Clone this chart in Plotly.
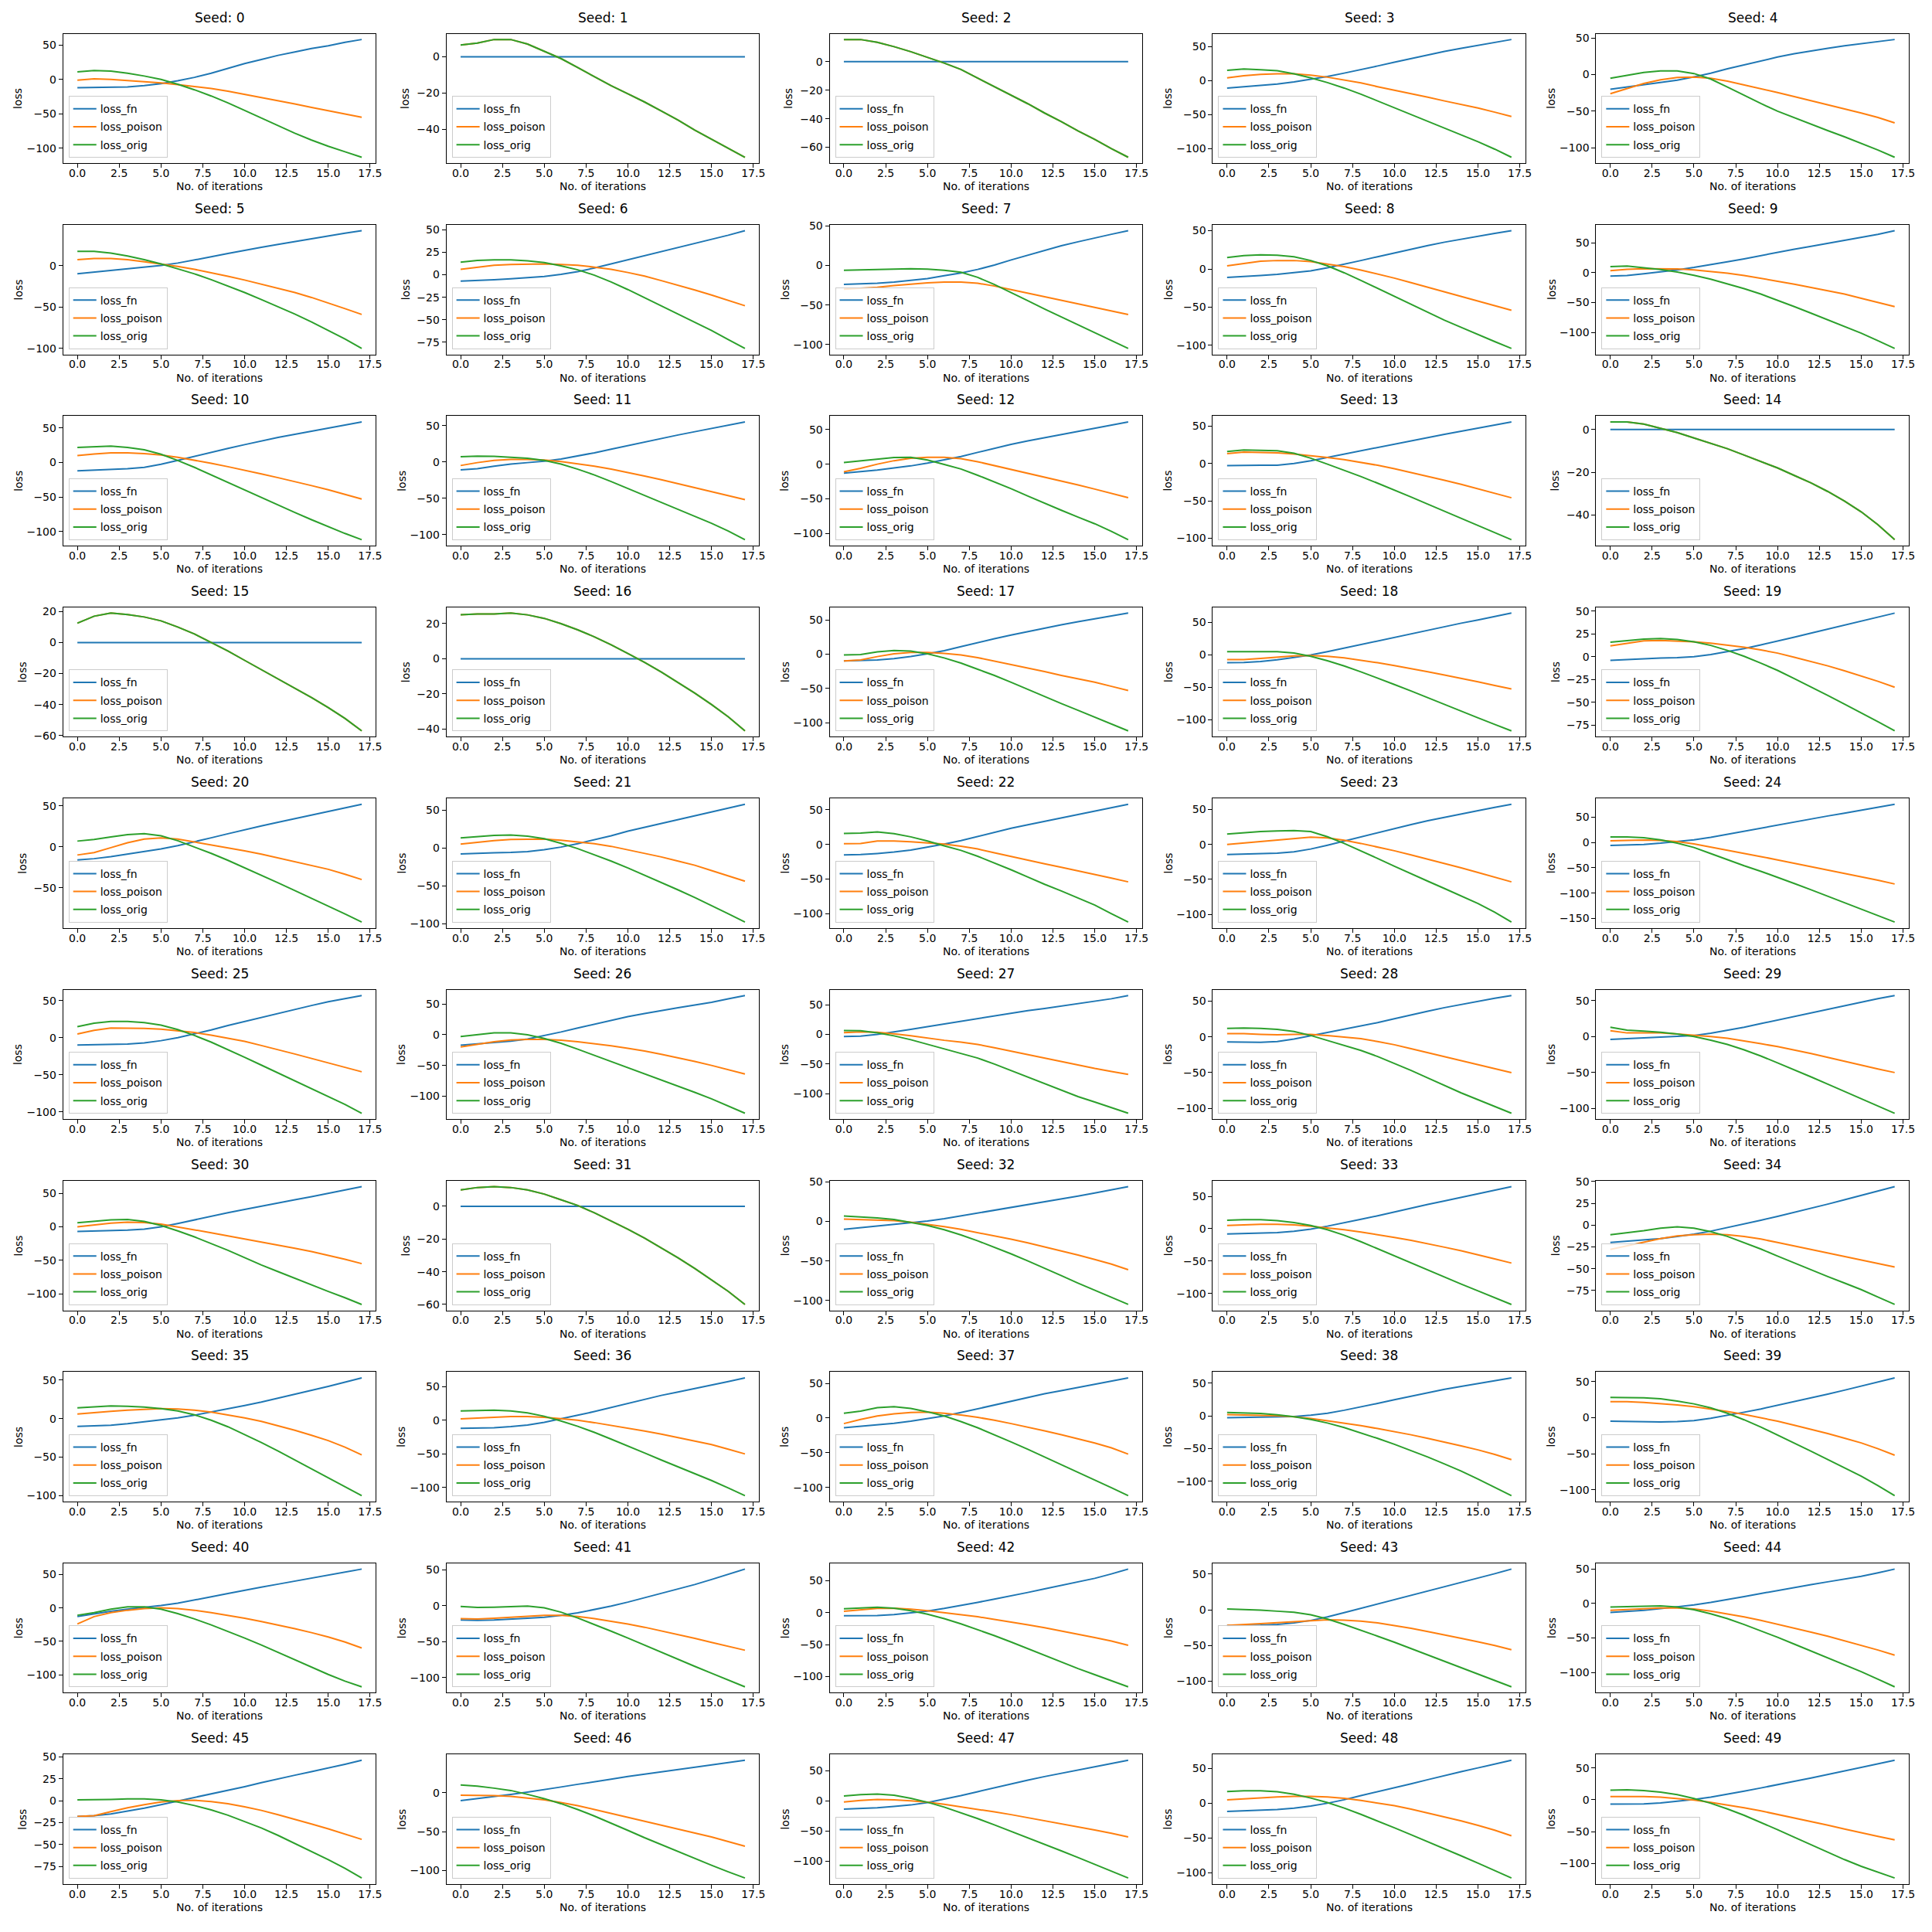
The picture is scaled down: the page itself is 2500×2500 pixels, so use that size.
import math
import plotly.graph_objects as go

SEEDS = list(range(50))
ITERATIONS = list(range(18))
SERIES_NAMES = ["loss_fn", "loss_poison", "loss_orig"]
SERIES_COLORS = ["#1f77b4", "#ff7f0e", "#2ca02c"]
X_TICK_VALUES = [0, 2.5, 5, 7.5, 10, 12.5, 15, 17.5]
X_TICK_LABELS = ["0.0", "2.5", "5.0", "7.5", "10.0", "12.5", "15.0", "17.5"]
X_LABEL = "No. of iterations"
Y_LABEL = "loss"

LOSS_FN = [
    [-12, -11.5, -11.5, -11, -9, -6, -2, 3, 9, 16, 23, 29, 35, 40, 45, 49, 54, 58],
    [0, 0, 0, 0, 0, 0, 0, 0, 0, 0, 0, 0, 0, 0, 0, 0, 0, 0],
    [0, 0, 0, 0, 0, 0, 0, 0, 0, 0, 0, 0, 0, 0, 0, 0, 0, 0],
    [-11, -9, -7, -5, -2, 2, 6, 11, 16, 21.5, 27, 32.5, 38, 43, 47.5, 52, 56, 60.5],
    [-20, -17, -14, -11, -7.5, -3, 2, 8, 13.5, 19, 24, 28.5, 32.5, 36, 39.5, 42.5, 45, 48],
    [-10, -8, -6.5, -4.5, -2.5, 0, 3, 6.5, 10.5, 14.5, 18.5, 22, 25.5, 29, 32.5, 35.5, 39, 42],
    [-7, -6.5, -5.5, -4.5, -3.5, -2, 0.5, 3.5, 7.5, 12, 16.5, 21, 25.5, 30, 34.5, 39.5, 44, 49],
    [-24, -23.5, -22.5, -21, -19, -16.5, -13, -9.5, -5, 0.5, 7, 13, 19.5, 25, 30, 35, 39.5, 44],
    [-11, -10, -8.5, -7, -5, -2.5, 1.5, 6, 11, 16, 21, 26, 30.5, 35, 39, 43, 46.5, 50],
    [-6, -5, -2, 1, 4.5, 8.5, 13, 18, 23, 28.5, 34, 39, 44, 49, 54, 59, 64, 70],
    [-12, -11, -10, -9, -7, -2.5, 3, 9, 15, 20.5, 26, 31.5, 36.5, 41, 45.5, 50, 54.5, 59],
    [-11, -9.5, -6, -3, -1, 1, 4, 8, 12.5, 17.5, 22.5, 27.5, 32.5, 37, 41.5, 46, 50.5, 55],
    [-13, -11, -8.5, -5.5, -2.5, 1.5, 6, 11, 17, 23, 28.5, 33.5, 38, 42.5, 47, 52, 56.5, 61],
    [-3, -2.5, -2.5, -2.5, 0, 3.5, 8, 12.5, 17, 21.5, 26, 30.5, 35, 39, 43, 47, 51, 55.5],
    [0, 0, 0, 0, 0, 0, 0, 0, 0, 0, 0, 0, 0, 0, 0, 0, 0, 0],
    [0, 0, 0, 0, 0, 0, 0, 0, 0, 0, 0, 0, 0, 0, 0, 0, 0, 0],
    [0, 0, 0, 0, 0, 0, 0, 0, 0, 0, 0, 0, 0, 0, 0, 0, 0, 0],
    [-10, -9.5, -8.5, -6.5, -3.5, 0.5, 5, 11, 17, 22.5, 28, 33, 38.5, 43, 47.5, 51.5, 56, 60],
    [-12, -11.5, -10, -7.5, -4, 0, 5, 10.5, 16, 21.5, 27.5, 33, 38.5, 44, 49, 54, 59, 64.5],
    [-4, -3, -2, -1.5, -1, 0, 2.5, 5.5, 9, 13, 17, 21.5, 26, 30.5, 35, 39.5, 44, 48],
    [-16, -14.5, -12, -9, -6, -2.5, 1.5, 6, 11, 16, 21, 25.5, 30, 34.5, 39, 43.5, 48, 52],
    [-8, -7, -6.5, -6, -5, -2.5, 1, 5.5, 10.5, 16, 22, 27, 32, 37, 42, 47, 52, 57.5],
    [-15, -14.5, -13, -11, -8, -4, 0.5, 5.5, 11.5, 17.5, 23.5, 28.5, 33.5, 38.5, 43, 48, 53, 58],
    [-14.5, -14, -13.5, -12.5, -10.5, -6.5, -1, 5, 11, 17, 23, 28.5, 34, 39, 44, 48.5, 53, 57.5],
    [-6, -5.5, -4, -1.5, 1.5, 5, 10, 16, 22, 28.5, 35, 41, 46.5, 52, 57.5, 63, 69, 75],
    [-10, -9.5, -9, -8.5, -7, -4, 0, 5, 10.5, 16.5, 22, 27.5, 33, 38.5, 43.5, 48.5, 53, 57],
    [-17, -15, -13, -10.5, -7, -1.5, 4.5, 11, 17.5, 23.5, 29.5, 34.5, 39.5, 44, 48.5, 53, 58.5, 64],
    [-3.5, -3, 0, 4, 8.5, 13, 17.5, 22, 27, 31.5, 36, 40, 43.5, 47.5, 51.5, 55.5, 60, 65.5],
    [-7, -7, -7.5, -6.5, -3, 1.5, 6, 10.5, 15, 20, 25.5, 31, 36, 41, 45.5, 50, 54, 58],
    [-4, -3, -2, -1, 0, 1.5, 4.5, 8.5, 13, 18, 23, 28, 33, 38, 43, 48, 52.5, 57],
    [-7, -6.5, -6, -5, -3.5, 0, 5, 10.5, 16, 21, 26, 31, 36, 40.5, 45, 50, 55, 60],
    [0, 0, 0, 0, 0, 0, 0, 0, 0, 0, 0, 0, 0, 0, 0, 0, 0, 0],
    [-10, -8, -6, -4, -2, 0.5, 3.5, 7, 10.5, 14, 17.5, 21, 25, 28.5, 32, 36, 40, 44],
    [-8, -7.5, -7, -6, -4, -0.5, 4, 9, 14.5, 20, 26, 32, 37.5, 43, 48.5, 54, 59.5, 65],
    [-20, -18.5, -17, -15.5, -13, -10.5, -7, -3, 1.5, 5.5, 10, 14.5, 19, 24, 29, 34, 39, 44],
    [-10, -9.5, -8.5, -6.5, -4, -1.5, 1, 4.5, 8.5, 12.5, 17, 21.5, 26.5, 31.5, 36.5, 42, 47.5, 53],
    [-12, -11.5, -11, -9.5, -7, -3, 2, 7.5, 13, 19, 25, 31, 37, 42, 47, 52, 57.5, 63],
    [-14, -12, -10, -7.5, -4.5, -1, 3, 8, 13.5, 19, 24.5, 30, 35, 39.5, 44, 48.5, 53, 58],
    [-3, -2.5, -2.5, -2, -1, 1, 4, 8.5, 13.5, 19, 24.5, 30, 35.5, 40.5, 45, 49.5, 54, 58],
    [-5, -5.5, -6, -6, -5.5, -4, -1, 3, 7.5, 12, 17, 22, 27, 32.5, 38, 43.5, 49, 55],
    [-13, -9, -5, -2, 0.5, 3.5, 7, 11.5, 16.5, 21.5, 26.5, 31, 35.5, 40, 44, 48.5, 53, 58],
    [-20, -20.5, -20, -19, -17.5, -16, -13.5, -10, -5.5, -0.5, 5, 11, 17, 23, 29.5, 36.5, 44, 51],
    [-5, -5, -4.5, -3, -0.5, 2.5, 6.5, 11, 16, 21, 26, 31.5, 37, 42.5, 48, 53.5, 60.5, 68],
    [-22, -22, -21.5, -20.5, -18.5, -15, -10, -4, 2, 8, 14, 20, 26, 32, 38, 44, 50.5, 57],
    [-13, -11.5, -10, -7.5, -5, -2, 1.5, 5.5, 10, 14.5, 19, 23.5, 27.5, 31.5, 35.5, 39.5, 44.5, 50],
    [-18, -17, -15, -12, -8.5, -4.5, -0.5, 3.5, 7.5, 11.5, 16, 20.5, 25, 29, 33, 37, 41.5, 46],
    [-10, -7.5, -5, -2, 1, 4, 7.5, 11, 14, 17.5, 21, 24, 27, 30, 33, 36, 39, 42],
    [-14, -13, -11.5, -9.5, -7, -3, 2.5, 8.5, 15, 21.5, 28, 34, 40, 45.5, 51, 56, 61.5, 67],
    [-12, -11, -10.5, -9, -7, -4, 0, 5, 11, 16.5, 22, 28, 34, 40, 45.5, 51, 56.5, 62],
    [-7, -7, -6.5, -5, -2.5, 0.5, 4, 8.5, 13.5, 18.5, 24, 29, 34, 39.5, 45, 50.5, 56, 62],
]

LOSS_POISON = [
    [-1, 1, 0, -1.5, -3, -5, -7.5, -10, -13, -17, -21.5, -26, -31, -35.5, -40.5, -45.5, -50, -55],
    [6.5, 7.5, 9.5, 9.5, 7, 3, -1, -6, -11, -16, -20.5, -25, -30, -35, -40.5, -45.5, -50.5, -55.5],
    [15.5, 15.5, 13.5, 10.5, 7, 3, -1, -5.5, -11.5, -17.5, -23.5, -29.5, -36, -42, -48.5, -54.5, -61, -67],
    [4, 7, 9, 10, 10, 8, 5, 1, -3.5, -9, -14, -19, -24.5, -30, -35, -40.5, -46.5, -53],
    [-26, -19, -12, -7, -4, -3.5, -5, -9, -14, -19, -24.5, -30, -35.5, -41, -46.5, -52.5, -58.5, -66],
    [7, 8.5, 8.5, 7, 4.5, 2, -1, -4.5, -8.5, -13, -17.5, -22.5, -27.5, -32.5, -38.5, -45, -52, -59],
    [6, 8.5, 10.5, 11.5, 12, 12, 11.5, 10.5, 8.5, 6, 2.5, -1.5, -6.5, -11.5, -17, -22.5, -28.5, -34.5],
    [-30, -29, -27.5, -25.5, -23.5, -22, -21, -21, -22.5, -26, -30.5, -35, -40, -44.5, -49, -53.5, -58, -62],
    [4, 7, 10, 11, 11, 9.5, 6.5, 3, -1.5, -6.5, -12, -18, -24, -30, -36, -42, -48, -54],
    [3, 5.5, 6.5, 6.5, 6, 4.5, 2, -1, -5, -9.5, -14.5, -19.5, -25, -30.5, -36, -43, -50, -57],
    [10, 12.5, 14, 14, 13, 11, 7.5, 3.5, -1, -6, -11, -16.5, -22, -27.5, -33.5, -39.5, -46, -53],
    [-5, -1, 2, 3.5, 3.5, 2.5, 0.5, -2.5, -6, -10, -14.5, -19.5, -24.5, -30, -35.5, -41, -46.5, -52],
    [-11, -6, 0, 5, 8.5, 10, 10, 8, 3.5, -2, -8, -13.5, -19, -24.5, -30, -36, -42, -48.5],
    [13, 15, 14.5, 14, 12.5, 10.5, 8, 5, 1.5, -2.5, -7, -12, -17, -22.5, -28, -34, -40, -46],
    [3.5, 3.5, 2.5, 0.5, -1.5, -4, -6.5, -9, -12, -15, -18, -21.5, -25, -29, -33.5, -38.5, -44.5, -51.5],
    [12.5, 17, 19, 18, 16.5, 14, 10, 5.5, 0, -5.5, -11.5, -17.5, -23.5, -29.5, -35.5, -42, -49, -57],
    [25, 25.5, 25.5, 26, 25, 23, 20, 16.5, 12.5, 8, 3, -2, -7.5, -13.5, -19.5, -26, -33, -41],
    [-10, -8.5, -3.5, 0.5, 2.5, 2.5, 1, -1, -5, -10, -15, -20, -25.5, -31, -36, -41, -47, -53],
    [-7, -7, -5.5, -3.5, -1.5, -1, -2, -4.5, -8, -12, -16.5, -21, -26, -31, -36, -41.5, -47, -52.5],
    [12, 15, 17.5, 18, 17.5, 16.5, 15, 13, 10.5, 7.5, 4, -0.5, -5, -10, -15.5, -21, -27, -33.5],
    [-10, -7, -1, 5, 9.5, 11, 9.5, 6, 2, -1.5, -5, -9, -13.5, -18, -22.5, -27.5, -33.5, -40],
    [5, 7.5, 9.5, 11, 11.5, 11.5, 10, 8, 5.5, 2, -2.5, -7, -12, -17.5, -23, -30, -37, -44],
    [1, 1.5, 5, 5, 4, 2.5, 0.5, -2.5, -6.5, -12, -17.5, -22.5, -28, -33, -38, -43, -48.5, -54],
    [0, 2, 4, 6, 8.5, 10.5, 9.5, 6, 1.5, -3.5, -9, -15, -21, -27, -33.5, -40, -46.5, -53.5],
    [3, 4, 4.5, 4, 1.5, -3, -9, -15, -21.5, -28, -34.5, -41, -47.5, -54, -60.5, -67, -74.5, -82],
    [5, 10, 13, 13, 12.5, 11.5, 9.5, 7, 3.5, -0.5, -5, -10.5, -16, -22, -28, -34, -40, -46],
    [-20, -16, -11.5, -8.5, -7.5, -7.5, -9, -11.5, -14.5, -18, -22, -26.5, -32, -37.5, -43.5, -50, -57, -64],
    [3, 4, 3.5, 1, -2.5, -6.5, -10, -13, -17, -22.5, -28.5, -34.5, -40.5, -46.5, -52, -57.5, -62.5, -67.5],
    [4.5, 4.5, 3.5, 3, 3.5, 3.5, 2, 0, -2.5, -6.5, -11, -16.5, -22, -27.5, -33, -38.5, -44, -50],
    [8, 5, 5, 5, 3.5, 2, 0, -2.5, -6, -10, -14, -18.5, -23.5, -29, -34.5, -40, -45, -50],
    [0, 3, 5.5, 7, 6.5, 4, 0, -4.5, -9, -13.5, -18, -22.5, -27, -32, -37, -42.5, -48.5, -55],
    [10, 11.5, 12, 11.5, 10, 7.5, 4, 0.5, -4, -9, -14, -19.5, -25.5, -31.5, -38, -45, -52, -60],
    [3, 2.5, 2, 1, -1, -3.5, -6.5, -10, -14, -18, -22.5, -27, -32, -37, -42.5, -48, -54, -61],
    [5, 6, 7, 7, 6, 4, 1.5, -1.5, -5, -9, -13.5, -18, -23, -28.5, -34, -40, -46.5, -53],
    [-28, -24, -19.5, -15.5, -12.5, -11, -10.5, -11, -13, -16, -20, -24, -28, -32, -36, -40, -44, -48],
    [6, 8, 9.5, 11, 12, 13, 12.5, 11, 8.5, 5, 1, -3.5, -9, -15, -21.5, -28.5, -37, -47],
    [2, 3, 4.5, 5.5, 5.5, 4.5, 2.5, 0, -3.5, -7.5, -11.5, -16, -20.5, -25.5, -30.5, -36, -43, -50],
    [-8, -2, 3, 6, 8, 8.5, 7, 4.5, 1, -3, -8, -13, -18.5, -24, -30, -36, -43, -52],
    [2, 1.5, 1, 0, -1.5, -4, -7.5, -11, -15, -19.5, -24, -29, -34.5, -40, -46, -52, -59, -67],
    [22, 22, 21, 19.5, 17.5, 15, 12, 8.5, 4.5, 0, -5, -10.5, -16, -22, -28.5, -35, -43, -52],
    [-24, -13, -7, -3.5, -1, 0, -1, -3.5, -7, -11, -15.5, -20.5, -25.5, -31, -37, -43.5, -51, -60],
    [-18, -18.5, -17.5, -16, -14.5, -13.5, -13.5, -15, -18, -21.5, -25.5, -30, -35, -40, -45.5, -51, -56.5, -62],
    [2, 4, 6.5, 7, 5.5, 3, 0, -3, -6.5, -10.5, -14.5, -19, -23.5, -28.5, -33.5, -39, -44.5, -51],
    [-22, -21, -19.5, -18, -16.5, -15, -14, -14.5, -16, -18.5, -22, -26, -30.5, -35, -40, -45, -50, -56],
    [-10, -9, -8, -6.5, -6.5, -8, -11, -15, -19.5, -24.5, -30, -35.5, -41.5, -47.5, -54, -60.5, -67.5, -75],
    [-18, -17, -12.5, -8, -4.5, -1.5, 0, 0.5, -1, -3.5, -7, -11, -16, -21, -26.5, -32, -38, -44],
    [-3, -3, -3.5, -4.5, -6.5, -9, -12.5, -16.5, -21.5, -26.5, -31.5, -36.5, -41.5, -46.5, -51.5, -57, -63, -69],
    [-2, 0.5, 2, 1.5, 0, -2.5, -6, -10, -14, -18.5, -23, -28, -33, -38, -43, -48.5, -54, -60],
    [5, 6.5, 8, 9, 10, 10, 9, 7, 4, 0.5, -3.5, -8.5, -14, -19.5, -25.5, -32, -39, -47],
    [5, 5, 5, 4, 2, -0.5, -4, -8, -12.5, -17.5, -23, -28.5, -34, -40, -46, -52, -57.5, -63],
]

LOSS_ORIG = [
    [11, 13, 12, 9, 5, 0, -7, -15, -24, -34, -45, -56, -67, -78, -88, -97, -105, -113],
    [6.5, 7.5, 9.5, 9.5, 7, 3, -1, -6, -11, -16, -20.5, -25, -30, -35, -40.5, -45.5, -50.5, -55.5],
    [15.5, 15.5, 13.5, 10.5, 7, 3, -1, -5.5, -11.5, -17.5, -23.5, -29.5, -36, -42, -48.5, -54.5, -61, -67],
    [15, 17, 16, 14.5, 10, 4, -3, -11, -20, -30, -40, -50, -60, -70, -80, -90, -101, -113],
    [-5, -1, 3, 5, 5, 1.5, -6, -17, -28.5, -39.5, -50, -59, -68, -76.5, -85, -94, -103, -113],
    [17, 17, 15, 11.5, 7, 2, -4, -10, -17, -24.5, -32.5, -41, -49.5, -58.5, -68, -78, -88.5, -100],
    [14, 16, 16.5, 16.5, 15.5, 13.5, 10, 5.5, -0.5, -8, -16.5, -25.5, -34.5, -43.5, -52.5, -62, -72, -82],
    [-6, -5.5, -5, -4.5, -4, -4.5, -6, -8.5, -15, -24, -34, -44.5, -55, -65, -75, -85, -95, -105],
    [15, 17.5, 18.5, 18, 16, 11, 4, -5, -15, -25.5, -36, -46.5, -57, -67, -76.5, -86, -95, -104],
    [10, 11, 8, 5, 1, -4.5, -11, -18.5, -27, -36, -46, -57, -68, -79, -90, -101.5, -114, -127],
    [22, 23, 24, 22, 18.5, 12, 3, -7, -18, -29, -40, -51, -62, -72.5, -83, -93, -103, -112],
    [7, 8, 7.5, 6.5, 5, 2, -3, -10, -18, -27, -36.5, -46, -55.5, -65, -74.5, -84.5, -95, -107],
    [2.5, 5, 7.5, 9.5, 10, 6, -0.5, -7, -16, -25.5, -35.5, -46, -56.5, -66.5, -76.5, -86, -97, -109],
    [16, 18, 17.5, 17, 13.5, 7, -1, -9, -17.5, -26.5, -35.5, -45, -54.5, -64, -73.5, -83, -92.5, -102],
    [3.5, 3.5, 2.5, 0.5, -1.5, -4, -6.5, -9, -12, -15, -18, -21.5, -25, -29, -33.5, -38.5, -44.5, -51.5],
    [12.5, 17, 19, 18, 16.5, 14, 10, 5.5, 0, -5.5, -11.5, -17.5, -23.5, -29.5, -35.5, -42, -49, -57],
    [25, 25.5, 25.5, 26, 25, 23, 20, 16.5, 12.5, 8, 3, -2, -7.5, -13.5, -19.5, -26, -33, -41],
    [-1, -0.5, 3.5, 5.5, 4.5, 0.5, -5.5, -13, -22, -31, -41, -51.5, -62, -72, -82, -92, -102, -112],
    [5, 5, 5, 5, 3, -2, -9, -17, -26, -35.5, -45.5, -55.5, -66, -76.5, -87, -97, -107, -117],
    [16, 18, 19.5, 20, 19, 16.5, 12.5, 7, 0.5, -7, -15, -24, -33, -42.5, -52, -61.5, -71.5, -81.5],
    [7, 9, 12, 15, 16, 13.5, 7.5, 0, -8, -16.5, -25.5, -34.5, -44, -53.5, -63, -72, -82, -92],
    [13, 15, 16.5, 17, 15.5, 12, 6, -1, -9, -17.5, -26.5, -36, -45.5, -55.5, -65.5, -76, -87, -98],
    [16, 16.5, 18, 15.5, 11, 5, -2, -8.5, -17, -26.5, -36.5, -47, -57.5, -67, -77, -87.5, -100, -112],
    [15, 17, 18.5, 19.5, 20, 18.5, 11, 1.5, -9, -20, -31, -42, -52.5, -63, -73.5, -84.5, -97, -111],
    [10.5, 10.5, 9, 5, -1.5, -10, -22, -34.5, -46, -57, -68.5, -81, -93.5, -106, -118.5, -131, -144, -157],
    [15, 19.5, 22, 22, 20.5, 17, 11, 3, -6, -16, -26.5, -37, -47.5, -58, -68.5, -79, -90, -102],
    [-3, 0, 3, 3, 0, -6, -14, -23.5, -33.5, -43.5, -54, -64, -74, -84, -94, -104.5, -116, -128],
    [6.5, 6, 2.5, -2.5, -9, -16.5, -24, -31.5, -40, -50, -61, -72.5, -84, -95, -105, -114, -123.5, -133],
    [12, 12.5, 12, 10.5, 7.5, 2, -5, -12, -19, -27.5, -37, -47, -57.5, -68, -78.5, -88, -97.5, -107],
    [13, 9, 7.5, 6, 3.5, 0, -5, -11, -18.5, -27, -36.5, -46, -56, -66, -76, -86, -96, -106.5],
    [6, 8.5, 10.5, 11, 8, 2, -6, -15, -25, -35, -46, -57, -67, -77, -87, -96.5, -106, -116],
    [10, 11.5, 12, 11.5, 10, 7.5, 4, 0.5, -4, -9, -14, -19.5, -25.5, -31.5, -38, -45, -52, -60],
    [7, 6, 4.5, 2.5, -1, -5, -10.5, -17, -24.5, -32.5, -41, -50, -59, -68.5, -78, -87, -96, -105],
    [13, 14, 14, 12.5, 9.5, 5, -1.5, -10, -20, -31, -42, -53, -64, -75, -85.5, -96, -106.5, -117],
    [-11, -9, -6.5, -3.5, -2, -3.5, -7.5, -13, -20, -27.5, -35.5, -43.5, -51.5, -59, -66.5, -74, -82.5, -91],
    [14, 15.5, 16.5, 16, 15, 13, 10, 5, -2, -10.5, -20.5, -31, -42, -53.5, -65, -76.5, -88, -100],
    [14, 14.5, 15, 14, 11, 6, -1, -9, -18, -28, -38, -48.5, -59, -69, -79, -89.5, -100.5, -112],
    [7, 10, 15, 16.5, 14, 9, 3, -5, -14, -24, -34.5, -45, -56, -67, -78, -89, -100.5, -112],
    [5, 4.5, 3.5, 1.5, -1.5, -5.5, -11, -18, -26, -34.5, -43.5, -53, -63, -73.5, -84.5, -96.5, -109, -122],
    [28, 28, 27.5, 26, 23, 19, 13.5, 6, -3, -13, -24, -35, -46.5, -58, -69.5, -81, -94, -108],
    [-11, -7, -2, 1.5, 1.5, -2, -8.5, -16.5, -25.5, -35, -45, -55.5, -66.5, -77.5, -88.5, -99.5, -109.5, -118],
    [-1, -2.5, -2, -1, -0.5, -3, -9, -17, -26, -35.5, -45, -55, -65, -75, -84.5, -94, -103.5, -113],
    [6, 7.5, 8.5, 7, 3, -2.5, -9.5, -17.5, -26.5, -36, -46, -56.5, -67, -77.5, -87.5, -97, -106.5, -116],
    [1, 0.5, -0.5, -2, -3.5, -7, -13, -20.5, -28.5, -37, -45.5, -54.5, -63.5, -72.5, -81.5, -90.5, -99.5, -108],
    [-5, -4.5, -4, -3.5, -5, -9, -15, -22, -30.5, -39.5, -49, -59, -69, -79, -89, -99, -110, -121],
    [1, 1, 1.5, 2, 2, 1, -1.5, -5.5, -10.5, -16.5, -23.5, -31, -39.5, -48.5, -57.5, -67, -77, -88],
    [10, 8.5, 6, 3, -2, -7.5, -14, -21.5, -30, -39, -48.5, -58, -67, -76, -85, -93.5, -102, -110],
    [8, 10, 11, 9, 4, -2.5, -10.5, -19.5, -29.5, -40, -50.5, -61, -72, -83, -94, -105, -116.5, -128],
    [17, 18, 18, 16.5, 13, 7.5, 1, -7, -16, -25.5, -35.5, -45.5, -55.5, -65.5, -76, -86.5, -97, -108],
    [15, 15.5, 14.5, 12, 8, 2, -5.5, -14.5, -24.5, -35.5, -47, -59, -71, -83, -94, -104.5, -114, -123],
]

# ---------------- layout constants (pixels) ----------------
W = H = 2500
N_COLS = 5
COL_LEFT = [82, 579.5, 1077, 1574.5, 2072]
PLOT_W = 406
ROW_TOP0 = 36.7
ROW_PITCH = 248.7
PLOT_H = 168.5
FONT = "DejaVu Sans"


def nice_ticks(lo, hi, nbins=6):
    raw = (hi - lo) / nbins
    scale = 10 ** math.floor(math.log10(raw))
    step = 10 * scale
    for s in [1, 2, 2.5, 5, 10]:
        if s * scale >= raw - 1e-12:
            step = s * scale
            break
    v = math.ceil(lo / step) * step
    ticks = []
    while v <= hi + 1e-9:
        ticks.append(round(v, 6))
        v += step
    return ticks


def fmt(v):
    if abs(v - round(v)) < 1e-9:
        s = str(abs(int(round(v))))
    else:
        s = ("%g" % abs(v))
    return ("\u2212" + s) if v < 0 else s


fig = go.Figure()
layout = dict(
    width=W, height=H,
    margin=dict(l=0, r=0, t=0, b=0),
    paper_bgcolor="white", plot_bgcolor="white",
    font=dict(family=FONT, size=14, color="black"),
    showlegend=True,
)
annotations = []

for i, seed in enumerate(SEEDS):
    r, c = divmod(i, N_COLS)
    left = COL_LEFT[c]
    right = left + PLOT_W
    top = ROW_TOP0 + r * ROW_PITCH
    bottom = top + PLOT_H
    x0, x1 = left / W, right / W
    y0, y1 = 1 - bottom / H, 1 - top / H
    sfx = "" if i == 0 else str(i + 1)

    series = [LOSS_FN[i], LOSS_POISON[i], LOSS_ORIG[i]]
    allv = [v for s in series for v in s]
    lo, hi = min(allv), max(allv)
    pad = 0.05 * (hi - lo)
    ylo, yhi = lo - pad, hi + pad
    tv = nice_ticks(ylo, yhi)
    tt = [fmt(v) for v in tv]
    maxlen = max(len(t) for t in tt)

    legend_key = "legend" + sfx
    for k in range(3):
        fig.add_trace(go.Scatter(
            x=ITERATIONS, y=series[k], mode="lines", name=SERIES_NAMES[k],
            line=dict(color=SERIES_COLORS[k], width=2),
            xaxis="x" + sfx, yaxis="y" + sfx,
            legend=legend_key, legendgroup=f"g{i}_{k}", showlegend=True,
        ))

    axis_common = dict(
        showline=True, mirror=True, linecolor="black", linewidth=1,
        ticks="outside", ticklen=5, tickwidth=1, tickcolor="black",
        showgrid=False, zeroline=False, fixedrange=True,
        tickfont=dict(family=FONT, size=14, color="black"),
    )
    layout["xaxis" + sfx] = dict(
        domain=[x0, x1], anchor="y" + sfx, range=[-0.85, 17.85],
        tickmode="array", tickvals=X_TICK_VALUES, ticktext=X_TICK_LABELS,
        ticklabelstandoff=-5,
        **axis_common,
    )
    layout["yaxis" + sfx] = dict(
        domain=[y0, y1], anchor="x" + sfx, range=[ylo, yhi],
        tickmode="array", tickvals=tv, ticktext=tt,
        **axis_common,
    )
    layout[legend_key] = dict(
        x=(left + 7) / W, y=1 - (bottom - 7) / H,
        xanchor="left", yanchor="bottom",
        bgcolor="rgba(255,255,255,0.8)", bordercolor="#cccccc", borderwidth=1,
        font=dict(family=FONT, size=14, color="black"),
        itemwidth=30, tracegroupgap=2, traceorder="grouped",
    )

    xc = (left + right) / 2 / W
    annotations.append(dict(
        text=f"Seed: {seed}", x=xc, y=y1, xref="paper", yref="paper",
        xanchor="center", yanchor="middle", yshift=21, showarrow=False,
        font=dict(family=FONT, size=17, color="black"),
    ))
    annotations.append(dict(
        text=X_LABEL, x=xc, y=y0, xref="paper", yref="paper",
        xanchor="center", yanchor="middle", yshift=-30, showarrow=False,
        font=dict(family=FONT, size=14, color="black"),
    ))
    annotations.append(dict(
        text=Y_LABEL, x=x0, y=(y0 + y1) / 2, xref="paper", yref="paper",
        xanchor="center", yanchor="middle", xshift=(-58 if maxlen >= 4 else -53),
        textangle=-90, showarrow=False,
        font=dict(family=FONT, size=14, color="black"),
    ))

layout["annotations"] = annotations
fig.update_layout(**layout)
fig.write_html("out.html")
